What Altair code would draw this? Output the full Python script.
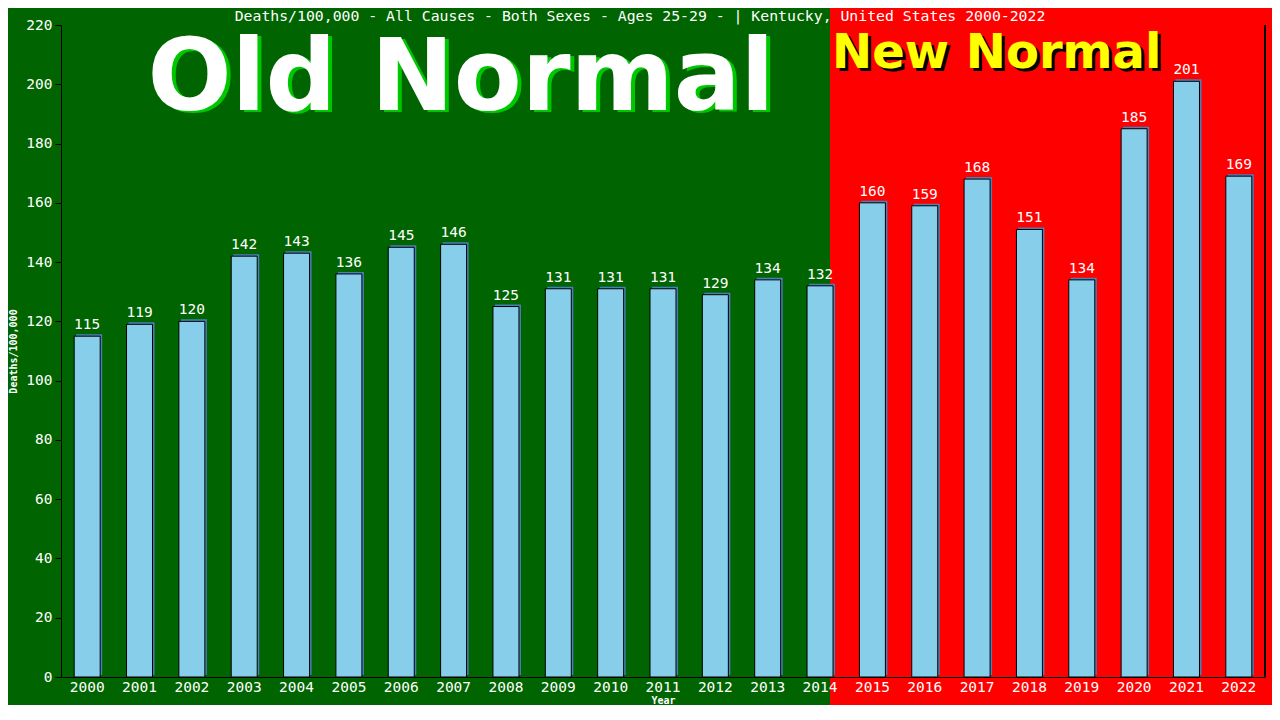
import altair as alt
import pandas as pd

years = [str(y) for y in range(2000, 2023)]
values = [115, 119, 120, 142, 143, 136, 145, 146, 125, 131, 131, 131, 129, 134, 132,
          160, 159, 168, 151, 134, 185, 201, 169]

title_text = "Deaths/100,000 - All Causes - Both Sexes - Ages 25-29 -  | Kentucky, United States 2000-2022"

df = pd.DataFrame({"Year": years, "Deaths": values})

W, H = 1204, 652
MONO = "DejaVu Sans Mono"
FS = 14.5

xenc = alt.X("Year:N", sort=years,
             scale=alt.Scale(paddingInner=0.5, paddingOuter=0.25),
             axis=alt.Axis(title="Year", labelAngle=0, labelColor="white", labelFont=MONO,
                           labelFontSize=FS, ticks=False, labelPadding=3, zindex=1,
                           domainColor="black", titleColor="white", titleFont=MONO,
                           titleFontSize=10, titleFontWeight="bold",
                           titleY=23, titleBaseline="middle"))
yenc = alt.Y("Deaths:Q", scale=alt.Scale(domain=[0, 220], nice=False),
             axis=alt.Axis(title="Deaths/100,000", values=list(range(0, 221, 20)),
                           labelColor="white", labelFont=MONO, labelFontSize=FS,
                           tickColor="black", tickSize=6, labelPadding=3, zindex=1,
                           domainColor="black", grid=False, titleColor="white",
                           titleFont=MONO, titleFontSize=10, titleFontWeight="bold",
                           titleX=-48, titleY=326, titleAngle=-90,
                           titleBaseline="middle", titleAlign="center"))

base = alt.Chart(df)

red = base.mark_rect(color="#ff0000").encode(
    x=alt.value(769), x2=alt.value(1240), y=alt.value(-40), y2=alt.value(720))

shadow = base.mark_bar(color="#4a7fb8", size=26, xOffset=2, yOffset=-2).encode(x=xenc, y=yenc)
bars = base.mark_bar(color="#87ceeb", stroke="black", strokeWidth=1, size=26).encode(x=xenc, y=yenc)
labels = base.mark_text(color="white", font=MONO, fontSize=FS, baseline="alphabetic",
                        dy=-7).encode(x=xenc, y=yenc, text="Deaths:Q")

right_rule = base.mark_rule(color="black").encode(
    x=alt.value(W), y=alt.value(0), y2=alt.value(H))

def big(text, color, dx, dy, x, y, size, align):
    return alt.Chart(pd.DataFrame({"t": [text]})).mark_text(
        color=color, font="DejaVu Sans", fontWeight="bold", fontSize=size,
        align=align, baseline="alphabetic", dx=dx, dy=dy).encode(
        x=alt.value(x), y=alt.value(y), text="t:N")

old_sh = big("Old Normal", "#00c800", 4, 2, 400, 85, 99, "center")
old = big("Old Normal", "white", 0, 0, 400, 85, 99, "center")
new_sh = big("New Normal", "black", 3, 3, 771, 43, 48, "left")
new = big("New Normal", "#ffff00", 0, 0, 771, 43, 48, "left")

title = alt.Chart(pd.DataFrame({"t": [title_text]})).mark_text(
    color="white", font=MONO, fontSize=14.8, baseline="middle", align="center").encode(
    x=alt.value(579), y=alt.value(-8), text="t:N")

chart = alt.layer(red, shadow, bars, labels, right_rule, old_sh, old, new_sh, new, title).properties(
    width=W, height=H, background="#006400", autosize="none",
    padding={"left": 53, "top": 17, "right": 7, "bottom": 28}
).configure_view(stroke=None)

chart.save("out.html", embed_options={"renderer": "svg", "actions": False})
